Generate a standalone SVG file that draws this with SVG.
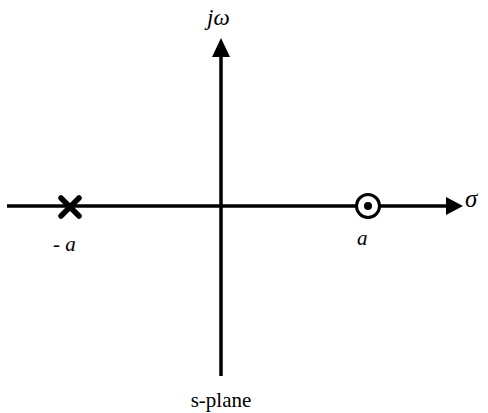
<svg xmlns="http://www.w3.org/2000/svg" width="488" height="413" viewBox="0 0 488 413">
<style>
.axis{stroke:#000;stroke-width:3.5;fill:none}
text{font-family:"Liberation Serif","Times New Roman","DejaVu Serif",serif;fill:#000}
.it{font-style:italic}
</style>
<rect width="488" height="413" fill="#fff"/>
<g id="connectors">
<line class="axis" x1="7" y1="206" x2="450" y2="206"/>
<polygon points="463,206 446,197 446,215" fill="#000"/>
<line class="axis" x1="221" y1="376" x2="221" y2="54"/>
<polygon points="221,38 212,57 230,57" fill="#000"/>
</g>
<g id="pole">
<path d="M61,198 L79,216 M79,198 L61,216" stroke="#000" stroke-width="5.5" stroke-linecap="round"/>
<text x="53" y="251" font-size="21">- <tspan class="it">a</tspan></text>
</g>
<g id="zero">
<circle cx="368" cy="206" r="11.5" fill="#fff" stroke="#000" stroke-width="3"/>
<circle cx="368" cy="206" r="4" fill="#000"/>
<text class="it" x="357" y="245" font-size="21">a</text>
</g>
<g id="labels">
<text class="it" x="207" y="25" font-size="23">jω</text>
<text class="it" x="465" y="207" font-size="25">σ</text>
<text x="221" y="407" font-size="21" text-anchor="middle">s-plane</text>
</g>
</svg>
